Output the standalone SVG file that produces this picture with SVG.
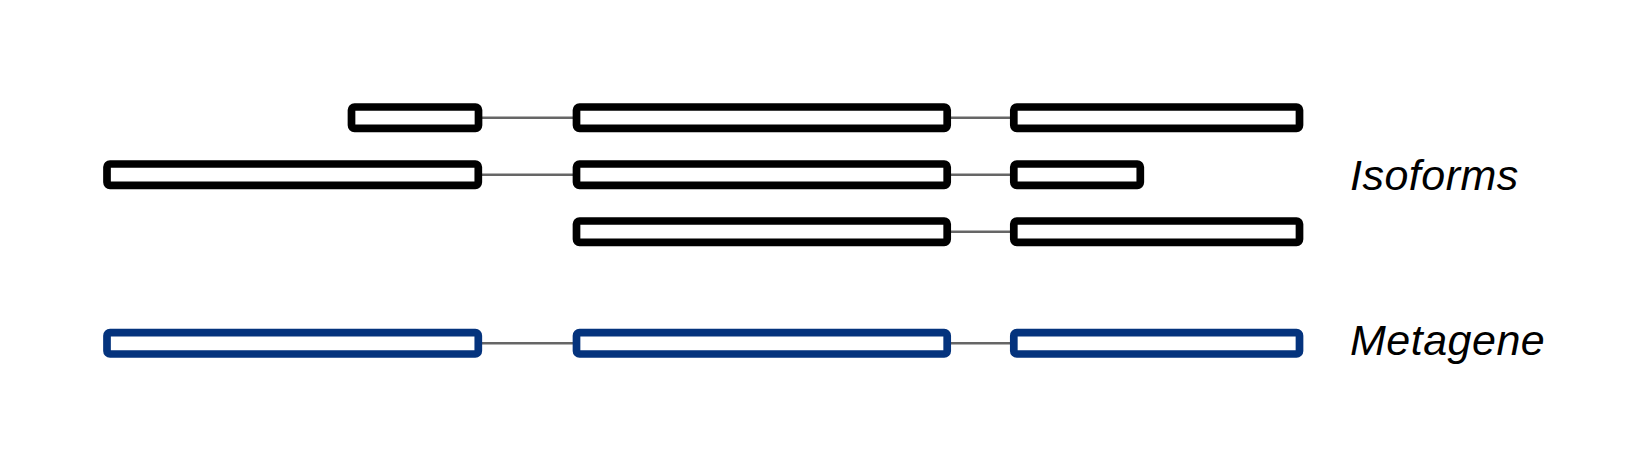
<svg xmlns="http://www.w3.org/2000/svg" width="1649" height="467" viewBox="0 0 1649 467">
<style>
.ex{fill:#fff;stroke:#000;stroke-width:7.7;}
.meta{fill:#fff;stroke:#04337d;stroke-width:7.7;}
.conn line{stroke:#666;stroke-width:2.5;}
.lbl{font-family:"Liberation Sans",Arial,sans-serif;font-style:italic;font-size:43px;letter-spacing:0.5px;fill:#000;}
</style>
<rect width="1649" height="467" fill="#fff"/>
<g id="connectors" class="conn">
<line x1="482" y1="117.7" x2="573" y2="117.7"/>
<line x1="951" y1="117.7" x2="1010" y2="117.7"/>
<line x1="482" y1="174.7" x2="573" y2="174.7"/>
<line x1="951" y1="174.7" x2="1010" y2="174.7"/>
<line x1="951" y1="231.7" x2="1010" y2="231.7"/>
<line x1="482" y1="343.3" x2="573" y2="343.3"/>
<line x1="951" y1="343.3" x2="1010" y2="343.3"/>
</g>
<g id="isoform1">
<rect class="ex" x="351.5" y="107" width="127" height="21.3" rx="3"/>
<rect class="ex" x="576.5" y="107" width="370.7" height="21.3" rx="3"/>
<rect class="ex" x="1013.8" y="107" width="285.7" height="21.3" rx="3"/>
</g>
<g id="isoform2">
<rect class="ex" x="107" y="164" width="371.3" height="21.3" rx="3"/>
<rect class="ex" x="576.5" y="164" width="370.7" height="21.3" rx="3"/>
<rect class="ex" x="1013.8" y="164" width="126.5" height="21.3" rx="3"/>
</g>
<g id="isoform3">
<rect class="ex" x="576.5" y="221" width="370.7" height="21.3" rx="3"/>
<rect class="ex" x="1013.8" y="221" width="285.7" height="21.3" rx="3"/>
</g>
<g id="metagene">
<rect class="meta" x="107" y="332.7" width="371.3" height="21.3" rx="3"/>
<rect class="meta" x="576.5" y="332.7" width="370.7" height="21.3" rx="3"/>
<rect class="meta" x="1013.8" y="332.7" width="285.7" height="21.3" rx="3"/>
</g>
<g id="labels">
<text class="lbl" x="1350" y="190">Isoforms</text>
<text class="lbl" x="1350" y="355">Metagene</text>
</g>
</svg>
